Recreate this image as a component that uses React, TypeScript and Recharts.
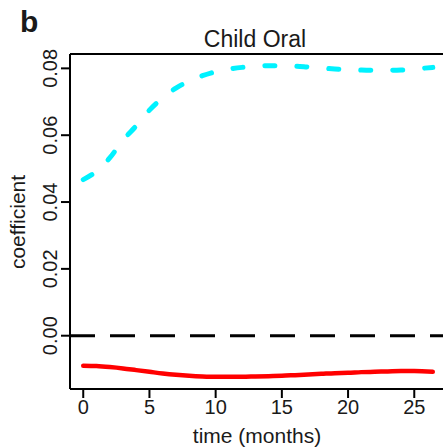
import { LineChart, Line, XAxis, YAxis, ReferenceLine, Label } from 'recharts';

const months = [0, 1, 2, 3, 4, 5, 6, 7, 8, 9, 10, 11, 12, 13, 14, 15, 16, 17, 18, 19, 20, 21, 22, 23, 24, 25, 26.4];
const cyanSeries = [
  0.0467, 0.0492, 0.0532, 0.0585, 0.0628, 0.0675, 0.0712, 0.0741, 0.0762, 0.0778, 0.079, 0.0798, 0.0803, 0.0806,
  0.0808, 0.0808, 0.0807, 0.0804, 0.0801, 0.0798, 0.0796, 0.0795, 0.0794, 0.0794, 0.0795, 0.0798, 0.0803,
];
const redSeries = [
  -0.009, -0.0091, -0.0094, -0.0098, -0.0103, -0.0108, -0.0113, -0.0117, -0.012, -0.0122, -0.0123, -0.0123, -0.0123,
  -0.0122, -0.0121, -0.012, -0.0118, -0.0116, -0.0114, -0.0112, -0.0111, -0.0109, -0.0108, -0.0107, -0.0106, -0.0106,
  -0.0108,
];
const xTicks = [0, 5, 10, 15, 20, 25];
const yTicks = [0, 0.02, 0.04, 0.06, 0.08];

const X_DOMAIN = [-1.0, 27.17];
const Y_DOMAIN = [-0.01595, 0.0843];

const font = '"Liberation Sans", Arial, sans-serif';
const ink = '#1a1a1a';

const data = months.map((m, i) => ({ m, cyan: cyanSeries[i], red: redSeries[i] }));

const YTick = (props: any) => {
  const { x, y, payload } = props;
  return (
    <text
      x={x}
      y={y}
      transform={`rotate(-90 ${x} ${y})`}
      textAnchor="middle"
      fontSize={20}
      fontFamily={font}
      fill={ink}
    >
      {payload.value.toFixed(2)}
    </text>
  );
};

export default function App() {
  return (
    <div style={{ position: 'fixed', left: 0, top: 0, width: 443, height: 447, background: '#fff' }}>
      <LineChart width={443} height={447} data={data} margin={{ top: 54, right: 0, bottom: 0, left: 0 }}>
        <XAxis
          dataKey="m"
          type="number"
          domain={X_DOMAIN}
          ticks={xTicks}
          allowDataOverflow
          height={58}
          stroke="#000"
          strokeWidth={2}
          tickSize={9}
          tickMargin={2}
          tick={{ fontSize: 20, fontFamily: font, fill: ink }}
        >
          <Label
            content={() => (
              <text x={257} y={443} textAnchor="middle" fontSize={21} fontFamily={font} fill={ink}>
                time (months)
              </text>
            )}
          />
        </XAxis>
        <YAxis
          type="number"
          domain={Y_DOMAIN}
          ticks={yTicks}
          allowDataOverflow
          width={70}
          stroke="#000"
          strokeWidth={2}
          tickSize={9}
          tickMargin={4}
          tick={<YTick />}
        >
          <Label
            content={() => (
              <text
                x={25}
                y={222}
                transform="rotate(-90 25 222)"
                textAnchor="middle"
                fontSize={21}
                fontFamily={font}
                fill={ink}
              >
                coefficient
              </text>
            )}
          />
        </YAxis>
        <ReferenceLine y={Y_DOMAIN[1]} stroke="#000" strokeWidth={2} ifOverflow="extendDomain" />
        <ReferenceLine y={0} stroke="#000" strokeWidth={3} strokeDasharray="25 15" />
        <Line
          dataKey="cyan"
          type="monotone"
          stroke="#00f2ff"
          strokeWidth={5}
          strokeDasharray="10 22"
          strokeLinecap="round"
          dot={false}
          isAnimationActive={false}
        />
        <Line
          dataKey="red"
          type="monotone"
          stroke="#ff0000"
          strokeWidth={4.5}
          strokeLinecap="round"
          dot={false}
          isAnimationActive={false}
        />
        <text x={255} y={47} textAnchor="middle" fontSize={23} fontFamily={font} fill={ink}>
          Child Oral
        </text>
        <text x={20} y={32} fontSize={30} fontWeight="bold" fontFamily={font} fill={ink}>
          b
        </text>
      </LineChart>
    </div>
  );
}
